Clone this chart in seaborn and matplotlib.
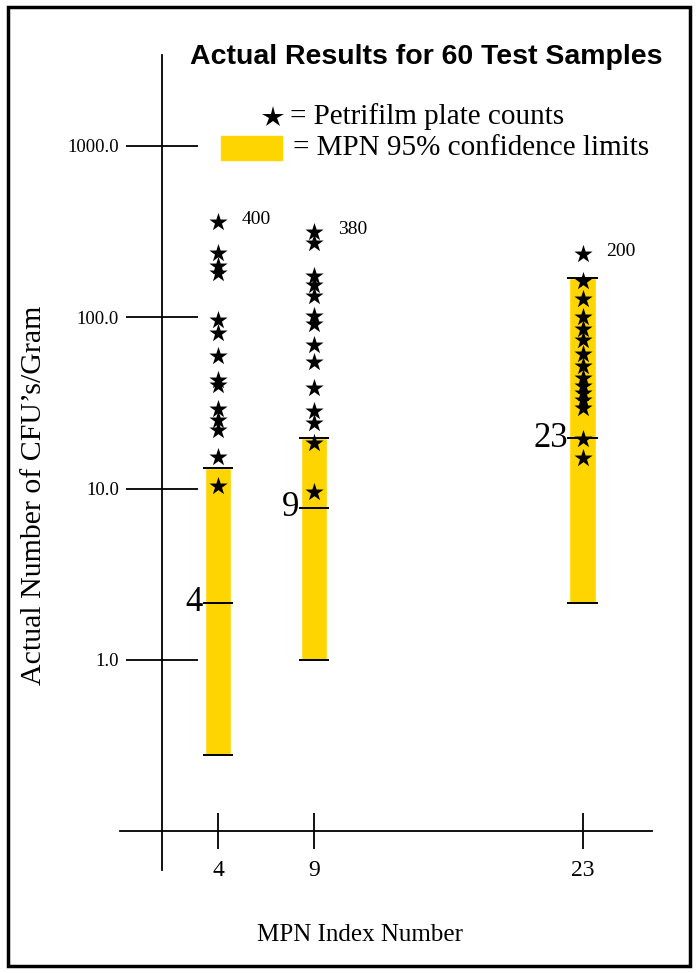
import numpy as np
import pandas as pd
import matplotlib
matplotlib.use("Agg")
import matplotlib.pyplot as plt
from matplotlib.lines import Line2D
from matplotlib.patches import Rectangle
from matplotlib.ticker import NullLocator
import seaborn as sns

# MPN index groups (x axis)
mpn_index = [4, 9, 23]
mpn_labels = ["4", "9", "23"]
# MPN 95% confidence limits, as drawn (CFU/g)
ci_low = [0.28, 1.0, 2.15]
ci_high = [13.2, 19.7, 169]
# MPN value marker line, as drawn
mpn_mark = [2.15, 7.7, 19.7]
# Petrifilm plate counts per MPN group
counts_4 = [360, 237, 199, 181, 96, 81, 59, 43, 40, 29, 25, 22, 15.3, 10.4]
counts_9 = [315, 271, 174, 154, 133, 102, 91, 69, 55, 38.6, 28.4, 24.1, 18.5, 9.6]
counts_23 = [234, 163, 128, 100, 85.5, 73.7, 61, 52, 44.3, 39.7, 36.2, 32.9, 29.5, 19.5, 15.1]
top_labels = ["400", "380", "200"]
ytick_vals = [1, 10, 100, 1000]
ytick_labels = ["1.0", "10.0", "100.0", "1000.0"]

df = pd.DataFrame({
    "mpn": [4] * len(counts_4) + [9] * len(counts_9) + [23] * len(counts_23),
    "cfu": counts_4 + counts_9 + counts_23,
})

sns.set_style("white")
plt.rcParams["font.family"] = ["Liberation Serif", "DejaVu Serif"]
plt.rcParams["text.color"] = "black"
plt.rcParams["xtick.color"] = "black"
plt.rcParams["ytick.color"] = "black"
gold = "#FFD500"

fig = plt.figure(figsize=(6.97, 9.73), dpi=100)
ax = fig.add_axes([120 / 697, 1 - 870 / 973, 532 / 697, 815 / 973])
ax.patch.set_alpha(0)
ax.set_yscale("log")
ax.set_xlim(-1.1, 26.6)
ax.set_ylim(10 ** -1.227, 10 ** 3.531)

# confidence bars
ax.bar(mpn_index, np.array(ci_high) - np.array(ci_low), bottom=ci_low,
       width=1.4, color=gold, zorder=2)
x = np.array(mpn_index)
for vals in (ci_low, ci_high, mpn_mark):
    ax.hlines(vals, x - 0.8, x + 0.8, color="black", lw=1.4, zorder=3)

# plate counts
sns.scatterplot(data=df, x="mpn", y="cfu", marker="*", s=190, color="black",
                edgecolor="black", linewidth=0, ax=ax, zorder=4, legend=False)

for xi, cnts, lab in zip(mpn_index, (counts_4, counts_9, counts_23), top_labels):
    ax.annotate(lab, xy=(xi, max(cnts)), xytext=(17, 2), textcoords="offset points",
                ha="left", va="center", fontsize=14)
for xi, m, lab in zip(mpn_index, mpn_mark, mpn_labels):
    ax.annotate(lab, xy=(xi - 0.7, m), xytext=(-1, 0), textcoords="offset points",
                ha="right", va="center", fontsize=25)

# axes styling
sns.despine(ax=ax)
ax.spines["left"].set_position(("data", 1.08))
ax.spines["bottom"].set_position(("data", 0.1))
for s in ("left", "bottom"):
    ax.spines[s].set_color("black")
    ax.spines[s].set_linewidth(1.3)
ax.set_yticks(ytick_vals, ytick_labels)
ax.yaxis.set_minor_locator(NullLocator())
ax.set_xticks(mpn_index, mpn_labels)
ax.tick_params(axis="y", direction="inout", length=52, width=1.3, pad=5,
               labelsize=13.5, left=True, color="black", labelcolor="black")
ax.tick_params(axis="x", direction="inout", length=26, width=1.3, pad=8,
               labelsize=17, bottom=True, color="black", labelcolor="black")
ax.set_xlabel("")
ax.set_ylabel("")

fig.text(360 / 697, 1 - 935 / 973, "MPN Index Number", ha="center", va="center", fontsize=18)
fig.text(34 / 697, 1 - 495 / 973, "Actual Number of CFU\u2019s/Gram", ha="center", va="center",
         rotation=90, fontsize=21.5)
fig.text(426 / 697, 1 - 57 / 973, "Actual Results for 60 Test Samples", ha="center", va="center",
         fontsize=20.5, fontweight="bold", family="Liberation Sans")

# hand-drawn legend
fig.add_artist(Line2D([273 / 697], [1 - 117 / 973], marker="*", ms=16, color="black",
                      mew=0, transform=fig.transFigure))
fig.text(290 / 697, 1 - 117 / 973, "= Petrifilm plate counts", ha="left", va="center", fontsize=21)
fig.add_artist(Rectangle((221 / 697, 1 - 160 / 973), 61 / 697, 24 / 973, color=gold,
                         transform=fig.transFigure))
fig.text(293 / 697, 1 - 148 / 973, "= MPN 95% confidence limits", ha="left", va="center", fontsize=21)

# frame around the whole figure
fig.add_artist(Rectangle((8 / 697, 7 / 973), 682 / 697, 959 / 973, fill=False, lw=2.5,
                         ec="black", transform=fig.transFigure))

fig.savefig("out.png", dpi=100)
